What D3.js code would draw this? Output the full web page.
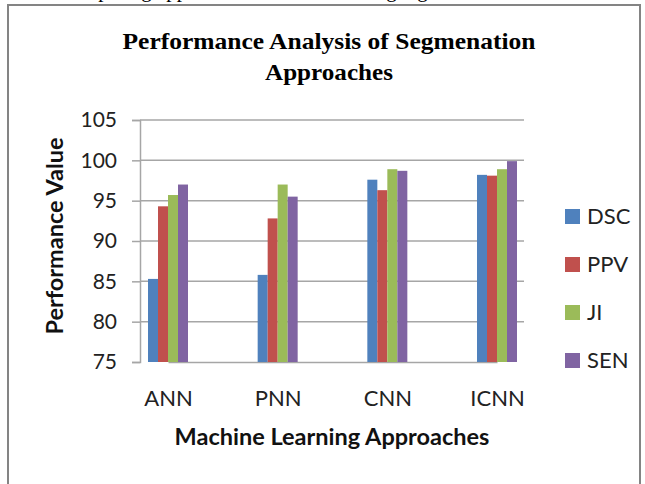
<!DOCTYPE html>
<html>
<head>
<meta charset="utf-8">
<script src="https://cdn.jsdelivr.net/npm/d3@7"></script>
<style>
  body { margin: 0; background: #fff; }
  svg { display: block; }
</style>
</head>
<body>
<div id="chart"></div>
<script>
// data
const approaches = ["ANN", "PNN", "CNN", "ICNN"];
const measures = ["DSC", "PPV", "JI", "SEN"];
const dsc = [85.3, 85.8, 97.6, 98.2];
const ppv = [94.3, 92.8, 96.3, 98.1];
const ji  = [95.7, 97.0, 98.9, 98.9];
const sen = [97.0, 95.5, 98.7, 99.9];
const yTicks = [75, 80, 85, 90, 95, 100, 105];
const colors = ["#4f81bd", "#c0504d", "#9bbb59", "#8064a2"];

const rows = approaches.map(function(a, i) {
  return { name: a, DSC: dsc[i], PPV: ppv[i], JI: ji[i], SEN: sen[i] };
});

const W = 645, H = 484;
const margin = {top: 120, left: 140};
const width = 384, height = 242;

const svg = d3.select("#chart").append("svg")
  .attr("width", W)
  .attr("height", H);

// cut off line of the page text above the figure (only descenders show)
svg.append("text")
  .attr("x", 62)
  .attr("y", -3)
  .attr("font-family", "Liberation Serif")
  .attr("font-size", 21)
  .text("comparing approaches with the existing algorithms");

// frame
svg.append("rect")
  .attr("x", 8)
  .attr("y", 5)
  .attr("width", 632)
  .attr("height", 520)
  .attr("fill", "none")
  .attr("stroke", "#848484")
  .attr("stroke-width", 2);

// title
const title = svg.append("text")
  .attr("font-family", "Liberation Serif")
  .attr("font-weight", "bold")
  .attr("font-size", 24)
  .attr("text-anchor", "middle");
title.append("tspan").attr("x", 329).attr("y", 49)
  .attr("textLength", 413).attr("lengthAdjust", "spacingAndGlyphs")
  .text("Performance Analysis of Segmenation");
title.append("tspan").attr("x", 329).attr("y", 80)
  .attr("textLength", 128).attr("lengthAdjust", "spacingAndGlyphs")
  .text("Approaches");

const chart = svg.append("g")
  .attr("transform", "translate(" + margin.left + "," + margin.top + ")");

const x0 = d3.scalePoint().domain(approaches).range([28, 357]);
const x1 = d3.scaleBand().domain(measures).range([-20, 20]);
const y = d3.scaleLinear().domain([75, 105]).range([height, 0]);
const z = d3.scaleOrdinal().domain(measures).range(colors);

// gridlines
chart.append("g")
  .selectAll("line")
  .data(yTicks.slice(1))
  .enter().append("line")
  .attr("x1", 0)
  .attr("x2", width)
  .attr("y1", function(d) { return y(d); })
  .attr("y2", function(d) { return y(d); })
  .attr("stroke", "#a6a6a6")
  .attr("stroke-width", 1.5);

// y axis
const yAxis = chart.append("g")
  .call(d3.axisLeft(y).tickValues(yTicks).tickSize(8).tickPadding(15));
yAxis.select(".domain").attr("stroke", "#a6a6a6").attr("stroke-width", 1.5);
yAxis.selectAll(".tick line").attr("stroke", "#a6a6a6").attr("stroke-width", 1.5);
yAxis.selectAll("text")
  .attr("font-family", "Lato")
  .attr("font-size", 21)
  .attr("fill", "#222");

// x axis
const xAxis = chart.append("g")
  .attr("transform", "translate(0," + height + ")")
  .call(d3.axisBottom(x0).tickSize(0).tickPadding(28));
xAxis.select(".domain").attr("stroke", "#a6a6a6").attr("stroke-width", 1.5);
xAxis.selectAll("text")
  .attr("font-family", "Lato")
  .attr("font-size", 22)
  .attr("fill", "#222");

// bars
chart.append("g")
  .selectAll("g")
  .data(rows)
  .enter().append("g")
  .attr("transform", function(d) { return "translate(" + x0(d.name) + ",0)"; })
  .selectAll("rect")
  .data(function(d) { return measures.map(function(k) { return {key: k, value: d[k]}; }); })
  .enter().append("rect")
  .attr("x", function(d) { return x1(d.key); })
  .attr("y", function(d) { return y(d.value); })
  .attr("width", x1.bandwidth())
  .attr("height", function(d) { return height - y(d.value); })
  .attr("fill", function(d) { return z(d.key); });

// axis titles
svg.append("text")
  .attr("transform", "translate(63,236) rotate(-90)")
  .attr("text-anchor", "middle")
  .attr("font-family", "Lato")
  .attr("font-weight", "bold")
  .attr("font-size", 23.5)
  .attr("fill", "#111")
  .text("Performance Value");

svg.append("text")
  .attr("x", 332)
  .attr("y", 445)
  .attr("text-anchor", "middle")
  .attr("font-family", "Lato")
  .attr("font-weight", "bold")
  .attr("font-size", 23.5)
  .attr("fill", "#111")
  .text("Machine Learning Approaches");

// legend
const legend = svg.append("g")
  .selectAll("g")
  .data(measures)
  .enter().append("g")
  .attr("transform", function(d, i) { return "translate(565," + (209 + i * 48) + ")"; });

legend.append("rect")
  .attr("width", 15)
  .attr("height", 15)
  .attr("fill", z);

legend.append("text")
  .attr("x", 22)
  .attr("y", 15)
  .attr("font-family", "Lato")
  .attr("font-size", 22)
  .attr("fill", "#222")
  .text(function(d) { return d; });
</script>
</body>
</html>
